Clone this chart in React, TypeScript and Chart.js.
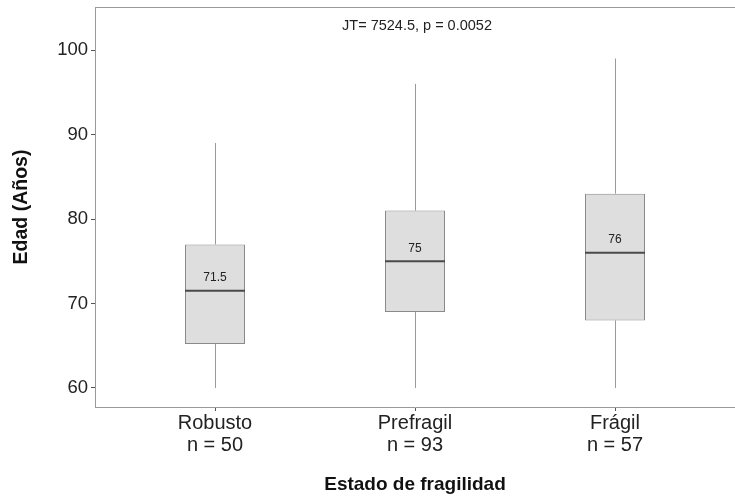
import React, { useEffect, useRef } from "react";
import { Chart, registerables } from "chart.js";
Chart.register(...registerables);

const categories = ["Robusto", "Prefragil", "Frágil"];
const counts = [50, 93, 57];
const positions = [1, 2, 3];
const mins = [60, 60, 60];
const q1s = [65.2, 69, 68];
const medians = [71.5, 75, 76];
const q3s = [77, 81, 83];
const maxs = [89, 96, 99];
const medianLabels = ["71.5", "75", "76"];
const yTicks = [60, 70, 80, 90, 100];
const annotationText = "JT= 7524.5, p = 0.0052";
const annotationY = 102.9;

const FONT = "'Liberation Sans', Arial, sans-serif";

const boxPlugin = {
  id: "boxExtras",
  beforeDatasetsDraw(chart: any) {
    const { ctx, scales } = chart;
    const x = scales.x, y = scales.y;
    ctx.save();
    ctx.strokeStyle = "#9a9a9a";
    ctx.lineWidth = 1;
    positions.forEach((p, i) => {
      const px = Math.round(x.getPixelForValue(p)) + 0.5;
      ctx.beginPath();
      ctx.moveTo(px, y.getPixelForValue(mins[i]));
      ctx.lineTo(px, y.getPixelForValue(q1s[i]));
      ctx.moveTo(px, y.getPixelForValue(q3s[i]));
      ctx.lineTo(px, y.getPixelForValue(maxs[i]));
      ctx.stroke();
    });
    ctx.restore();
  },
  afterDatasetsDraw(chart: any) {
    const { ctx, scales, chartArea } = chart;
    const x = scales.x, y = scales.y;
    const meta = chart.getDatasetMeta(0);
    ctx.save();
    positions.forEach((p, i) => {
      const px = x.getPixelForValue(p);
      const w = meta.data[i] ? meta.data[i].width : 60;
      const py = y.getPixelForValue(medians[i]);
      ctx.strokeStyle = "#4a4a4a";
      ctx.lineWidth = 2;
      ctx.beginPath();
      ctx.moveTo(px - w / 2, py);
      ctx.lineTo(px + w / 2, py);
      ctx.stroke();
      ctx.fillStyle = "#222";
      ctx.font = `12px ${FONT}`;
      ctx.textAlign = "center";
      ctx.textBaseline = "middle";
      ctx.fillText(medianLabels[i], px, py - 13);
    });
    ctx.fillStyle = "#222";
    ctx.font = `14.5px ${FONT}`;
    ctx.textAlign = "center";
    ctx.textBaseline = "middle";
    ctx.fillText(annotationText, x.getPixelForValue(2) + 2, y.getPixelForValue(annotationY));
    ctx.strokeStyle = "#999";
    ctx.lineWidth = 1;
    ctx.beginPath();
    ctx.moveTo(chartArea.left, Math.round(chartArea.top) + 0.5);
    ctx.lineTo(chartArea.right, Math.round(chartArea.top) + 0.5);
    ctx.stroke();
    ctx.restore();
  },
};

export default function App() {
  const ref = useRef<HTMLCanvasElement | null>(null);
  useEffect(() => {
    document.body.style.margin = "0";
    if (!ref.current) return;
    const chart = new Chart(ref.current, {
      type: "bar",
      data: {
        datasets: [
          {
            data: positions.map((p, i) => ({ x: p, y: [q1s[i], q3s[i]] })) as any,
            backgroundColor: "#dedede",
            borderColor: "#8a8a8a",
            borderWidth: 1,
            borderSkipped: false,
            categoryPercentage: 1,
            barPercentage: 0.3,
          },
        ],
      },
      options: {
        animation: false,
        responsive: false,
        layout: { padding: { top: 7, right: 0, left: 0, bottom: 0 } },
        plugins: { legend: { display: false }, tooltip: { enabled: false } },
        scales: {
          x: {
            type: "linear",
            min: 0.4,
            max: 3.6,
            offset: false,
            afterBuildTicks: (s: any) => {
              s.ticks = positions.map((v) => ({ value: v }));
            },
            afterFit: (s: any) => {
              s.height = 96;
              s.paddingLeft = 0;
              s.paddingRight = 0;
            },
            grid: { offset: false, drawOnChartArea: false, drawTicks: true, tickLength: 4, color: "#555" },
            border: { color: "#999" },
            ticks: {
              color: "#222",
              font: { size: 20, family: FONT, lineHeight: 1.1 },
              padding: 1,
              maxRotation: 0,
              callback: (v: any) => {
                const i = positions.indexOf(Number(v));
                return i >= 0 ? [categories[i], `n = ${counts[i]}`] : "";
              },
            },
            title: {
              display: true,
              text: "Estado de fragilidad",
              color: "#111",
              font: { size: 19, weight: "bold", family: FONT },
              padding: { top: 0, bottom: 7 },
            },
          },
          y: {
            min: 57.75,
            max: 105.1,
            afterBuildTicks: (s: any) => {
              s.ticks = yTicks.map((v) => ({ value: v }));
            },
            afterFit: (s: any) => {
              s.width = 95;
              s.paddingTop = 0;
              s.paddingBottom = 0;
            },
            grid: { drawOnChartArea: false, drawTicks: true, tickLength: 4, color: "#555" },
            border: { color: "#999" },
            ticks: {
              color: "#222",
              font: { size: 18.5, family: FONT },
              padding: 3,
            },
            title: {
              display: true,
              text: "Edad (Años)",
              color: "#111",
              font: { size: 19.5, weight: "bold", family: FONT },
              padding: { top: 10, bottom: 0 },
            },
          },
        },
      },
      plugins: [boxPlugin],
    });
    return () => chart.destroy();
  }, []);
  return (
    <div style={{ width: 735, height: 503, background: "#fff" }}>
      <canvas ref={ref} width={735} height={503} />
    </div>
  );
}
